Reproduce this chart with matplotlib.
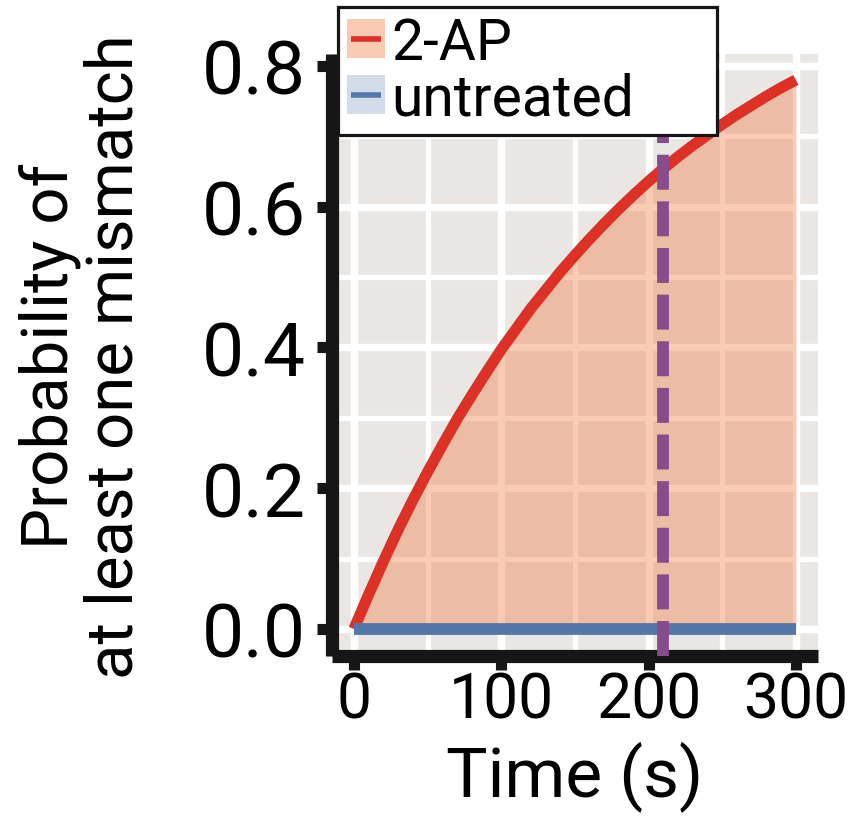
import numpy as np
import matplotlib
matplotlib.use("Agg")
import matplotlib.pyplot as plt
from matplotlib.patches import Patch
from matplotlib.lines import Line2D

plt.rcParams['font.family'] = ['Roboto', 'DejaVu Sans']

# probability of at least one mismatch over time
time_s = [0, 10, 20, 30, 40, 50, 60, 70, 80, 90, 100, 110, 120, 130, 140, 150,
          160, 170, 180, 190, 200, 210, 220, 230, 240, 250, 260, 270, 280, 290, 300]
p_2ap = [0.0, 0.049, 0.096, 0.141, 0.183, 0.223, 0.261, 0.298, 0.332, 0.365,
         0.397, 0.426, 0.455, 0.481, 0.507, 0.531, 0.554, 0.576, 0.597, 0.617,
         0.636, 0.654, 0.671, 0.687, 0.702, 0.717, 0.731, 0.744, 0.757, 0.769, 0.780]
p_untreated = [0.0] * len(time_s)
t_mark = 210

red = "#DC3127"
blue = "#5577A8"
purple = "#874C8C"
fill_2ap = "#F27D46"
panel_bg = "#EAE6E3"

fig = plt.figure(figsize=(8.62, 8.2), dpi=100)
ax = fig.add_axes([331.8 / 862, 0.1983, 486.2 / 862, 0.7347])
ax.set_facecolor(panel_bg)

# ggplot-like grid: major + minor in white
ax.set_xticks([0, 100, 200, 300])
ax.set_xticks([50, 150, 250], minor=True)
ax.set_yticks([0.0, 0.2, 0.4, 0.6, 0.8])
ax.set_yticks([0.1, 0.3, 0.5, 0.7], minor=True)
ax.grid(which='major', color='white', lw=5.3, zorder=0)
ax.grid(which='minor', color='white', lw=3.8, zorder=0)
ax.set_axisbelow(True)

ax.fill_between(time_s, 0, p_2ap, color=fill_2ap, alpha=0.4, lw=0, zorder=2)
ax.fill_between(time_s, 0, p_untreated, color=blue, alpha=0.25, lw=0, zorder=2)
ax.plot(time_s, p_2ap, color=red, lw=8, solid_capstyle='butt', zorder=3)
ax.plot(time_s, p_untreated, color=blue, lw=8.5, solid_capstyle='butt', zorder=4)
ax.axvline(t_mark, color=purple, lw=8.5, ls=(0, (2.96, 0.99)),
           dash_capstyle='butt', zorder=5)

ax.set_xlim(-15, 315)
ax.set_ylim(-0.039, 0.817)

for side in ['top', 'right']:
    ax.spines[side].set_visible(False)
for side in ['left', 'bottom']:
    ax.spines[side].set_linewidth(9.5)
    ax.spines[side].set_color('#161616')
    ax.spines[side].set_capstyle('butt')

ax.tick_params(which='minor', length=0)
ax.tick_params(axis='y', which='major', length=11, width=8, color='#161616',
               labelsize=54, pad=8)
ax.tick_params(axis='x', which='major', length=10, width=8, color='#161616',
               labelsize=45, pad=0)
ax.set_yticklabels(["0.0", "0.2", "0.4", "0.6", "0.8"])

ax.set_xlabel("Time (s)", fontsize=50, labelpad=7)
ax.set_ylabel("Probability of\nat least one mismatch", fontsize=47,
              linespacing=1.05, labelpad=40)

handles = [
    (Patch(facecolor=fill_2ap, alpha=0.4, lw=0),
     Line2D([], [], ls='', marker='_', ms=22, mew=4, color=red)),
    (Patch(facecolor=blue, alpha=0.25, lw=0),
     Line2D([], [], ls='', marker='_', ms=22, mew=4, color=blue)),
]
leg = fig.legend(handles, ["2-AP", "untreated"], loc='upper left',
                 bbox_to_anchor=(338 / 862, 1 - 124 / 820, 379 / 862, 116 / 820),
                 mode='expand', borderaxespad=0,
                 fontsize=41, handlelength=0.68, handleheight=0.68,
                 handletextpad=0.1, labelspacing=0.02, borderpad=0.15,
                 fancybox=False, framealpha=1, edgecolor='#161616',
                 numpoints=1)
leg.get_frame().set_linewidth(2.3)

fig.savefig("out.png", dpi=100)
